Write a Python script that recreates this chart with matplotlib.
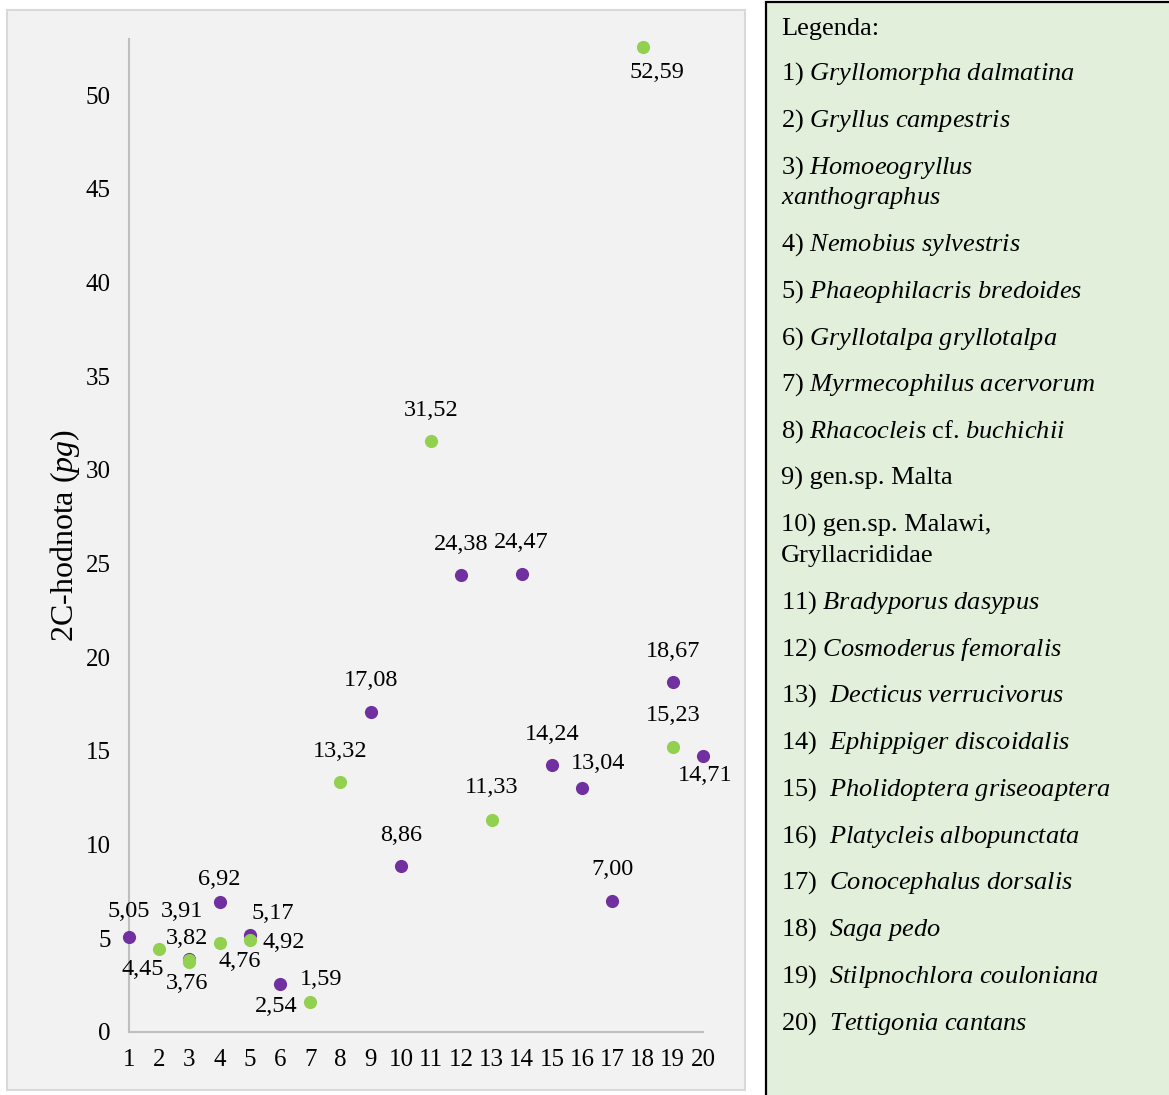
import matplotlib
matplotlib.use("Agg")
import matplotlib.pyplot as plt
from matplotlib.patches import Rectangle

plt.rcParams['font.family'] = ['Liberation Serif', 'DejaVu Serif']
plt.rcParams['mathtext.fontset'] = 'custom'
plt.rcParams['mathtext.rm'] = 'Liberation Serif'
plt.rcParams['mathtext.it'] = 'Liberation Serif:italic'

# data: species number -> 2C value (pg)
purple_x = [1, 3, 4, 5, 6, 9, 10, 12, 14, 15, 16, 17, 19, 20]
purple_y = [5.05, 3.91, 6.92, 5.17, 2.54, 17.08, 8.86, 24.38, 24.47, 14.24, 13.04, 7.00, 18.67, 14.71]
green_x = [2, 3, 3, 4, 5, 7, 8, 11, 13, 18, 19]
green_y = [4.45, 3.82, 3.76, 4.76, 4.92, 1.59, 13.32, 31.52, 11.33, 52.59, 15.23]

legend_items = [
    r"1) $\mathit{Gryllomorpha\ dalmatina}$",
    r"2) $\mathit{Gryllus\ campestris}$",
    r"3) $\mathit{Homoeogryllus}$" + "\n" + r"$\mathit{xanthographus}$",
    r"4) $\mathit{Nemobius\ sylvestris}$",
    r"5) $\mathit{Phaeophilacris\ bredoides}$",
    r"6) $\mathit{Gryllotalpa\ gryllotalpa}$",
    r"7) $\mathit{Myrmecophilus\ acervorum}$",
    r"8) $\mathit{Rhacocleis}$ cf. $\mathit{buchichii}$",
    "9) gen.sp. Malta",
    "10) gen.sp. Malawi,\nGryllacrididae",
    r"11) $\mathit{Bradyporus\ dasypus}$",
    r"12) $\mathit{Cosmoderus\ femoralis}$",
    r"13)  $\mathit{Decticus\ verrucivorus}$",
    r"14)  $\mathit{Ephippiger\ discoidalis}$",
    r"15)  $\mathit{Pholidoptera\ griseoaptera}$",
    r"16)  $\mathit{Platycleis\ albopunctata}$",
    r"17)  $\mathit{Conocephalus\ dorsalis}$",
    r"18)  $\mathit{Saga\ pedo}$",
    r"19)  $\mathit{Stilpnochlora\ couloniana}$",
    r"20)  $\mathit{Tettigonia\ cantans}$",
]

# label offsets in pixels (dx, dy), same order as the data
purple_off = [(0, 26), (-7, 47), (0, 23), (23, 22), (-4, -22), (0, 31), (0, 31),
              (0, 31), (0, 31), (0, 31), (16, 24), (0, 31), (0, 31), (2, -19)]
green_off = [(-16, -21), (-2, 22), (-2, -22), (20, -19), (34, -3), (11, 23), (0, 31),
             (0, 31), (0, 32), (14, -26), (0, 31)]

W, H = 1169, 1095
fig = plt.figure(figsize=(W / 100, H / 100), dpi=100)
fig.patch.set_facecolor('white')

# chart panel and legend box
fig.add_artist(Rectangle((7 / W, 1 - 1090 / H), 738 / W, 1080 / H, transform=fig.transFigure,
                         facecolor='#f2f2f2', edgecolor='#d9d9d9', lw=1.5, zorder=0))
fig.add_artist(Rectangle((766 / W, 1 - 1110 / H), 420 / W, 1108 / H, transform=fig.transFigure,
                         facecolor='#e2efda', edgecolor='black', lw=1.6, zorder=0))

ax = fig.add_axes([129 / W, 1 - 1032 / H, (703 - 129) / W, (1032 - 39) / H])
ax.set_facecolor('none')
ax.scatter(purple_x, purple_y, s=90, color='#7030a0', zorder=3, clip_on=False, linewidths=0)
ax.scatter(green_x, green_y, s=90, color='#92d050', zorder=4, clip_on=False, linewidths=0)

for xs, ys, offs in [(purple_x, purple_y, purple_off), (green_x, green_y, green_off)]:
    for x, y, (dx, dy) in zip(xs, ys, offs):
        ax.annotate(f"{y:.2f}".replace('.', ','), (x, y), xytext=(dx, dy),
                    textcoords='offset pixels', ha='center', va='center', fontsize=17.5)

ax.set_xlim(1, 20)
ax.set_ylim(0, 53)
ax.set_xticks(range(1, 21))
ax.set_yticks(range(0, 51, 5))
ax.tick_params(length=0, labelsize=18)
ax.tick_params(axis='y', pad=13)
ax.tick_params(axis='x', pad=12)
for s in ['top', 'right']:
    ax.spines[s].set_visible(False)
for s in ['left', 'bottom']:
    ax.spines[s].set_color('#bfbfbf')
    ax.spines[s].set_linewidth(1.5)

fig.text(65 / W, 1 - 535 / H, r"2C-hodnota ($\mathit{pg}$)", rotation=90,
         ha='center', va='center', fontsize=23)

# legend text
y = 27
fig.text(781 / W, 1 - (y + 8) / H, "Legenda:", fontsize=19, va='baseline')
y = 72
for item in legend_items:
    lines = item.split("\n")
    for j, line in enumerate(lines):
        fig.text(781 / W, 1 - (y + 8) / H, line, fontsize=19, va='baseline')
        if j < len(lines) - 1:
            y += 30.5
    y += 46.75

fig.savefig('out.png', dpi=100)
